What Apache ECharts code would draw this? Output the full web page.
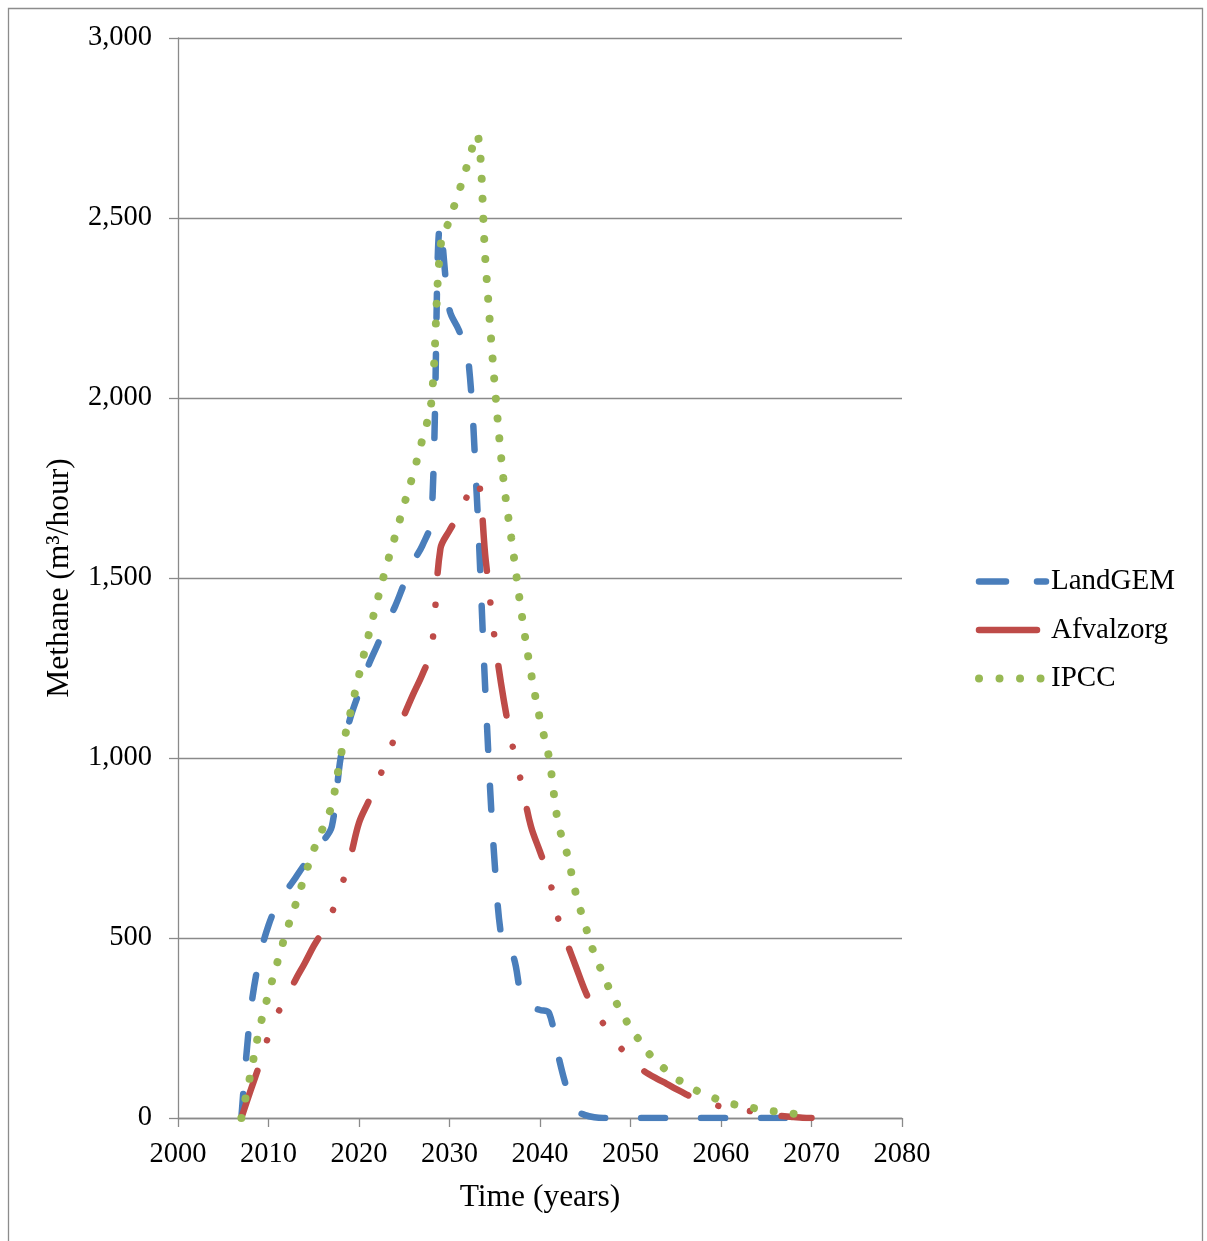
<!DOCTYPE html>
<html>
<head>
<meta charset="utf-8">
<script src="https://cdn.jsdelivr.net/npm/echarts@6/dist/echarts.min.js"></script>
<style>
html,body{margin:0;padding:0;background:#fff;}
#chart{width:1207px;height:1241px;}
</style>
</head>
<body>
<div id="chart"></div>
<script>
// Years (x values) start at 2007
const startYear = 2007;
const seriesNames = ['LandGEM', 'Afvalzorg', 'IPCC'];
const xTicks = [2000, 2010, 2020, 2030, 2040, 2050, 2060, 2070, 2080];
const yTicks = [0, 500, 1000, 1500, 2000, 2500, 3000];

// LandGEM, 2007 .. 2068
const landgem = [0, 290, 445, 535, 595, 632, 668, 705, 737, 768,
  810, 1005, 1108, 1182, 1255, 1312, 1370, 1422, 1485, 1545,
  1590, 1660, 2482, 2245, 2190, 2125, 1735, 1165, 705, 465,
  452, 335, 308, 300, 292, 175, 80, 22, 8, 2,
  0, 0, 0, 0, 0, 0, 0, 0, 0, 0,
  0, 0, 0, 0, 0, 0, 0, 0, 0, 0,
  0, 0];

// Afvalzorg, 2007 .. 2070
const afvalzorg = [0, 75, 148, 228, 290, 335, 385, 430, 478, 520,
  570, 640, 720, 820, 876, 930, 995, 1060, 1120, 1178,
  1232, 1300, 1582, 1632, 1675, 1730, 1775, 1550, 1330, 1160,
  1030, 925, 810, 740, 668, 555, 485, 418, 352, 300,
  262, 225, 192, 165, 140, 122, 108, 95, 81, 68,
  55, 45, 38, 32, 28, 24, 20, 16, 12, 8,
  5, 3, 1, 0];

// IPCC, 2007 .. 2069
const ipcc = [0, 120, 247, 345, 434, 520, 594, 672, 745, 805,
  870, 1008, 1120, 1230, 1335, 1435, 1530, 1617, 1705, 1790,
  1885, 1990, 2420, 2495, 2570, 2650, 2732, 2370, 2035, 1765,
  1580, 1395, 1237, 1107, 1000, 820, 733, 620, 535, 456,
  398, 340, 295, 250, 215, 180, 155, 131, 110, 96,
  80, 68, 58, 48, 41, 35, 30, 26, 22, 18,
  15, 12, 10];

function pairs(arr) { return arr.map((v, i) => [startYear + i, v]); }

const fontFamily = '"Liberation Serif", "Times New Roman", serif';
const gridColor = '#8a8a8a';
const colors = ['#4a7ebb', '#be4b48', '#98b954'];

const chart = echarts.init(document.getElementById('chart'), null, {renderer: 'canvas'});
chart.setOption({
  animation: false,
  backgroundColor: '#ffffff',
  textStyle: {fontFamily: fontFamily, color: '#000'},
  graphic: [{
    type: 'rect',
    shape: {x: 8.5, y: 8.5, width: 1194, height: 1260},
    style: {fill: 'none', stroke: '#8c8c8c', lineWidth: 1.3},
    silent: true
  }],
  grid: {left: 178, right: 305, top: 38, bottom: 123, containLabel: false, outerBoundsMode: 'none'},
  legend: {
    orient: 'vertical',
    left: 968,
    top: 567,
    padding: 0,
    itemWidth: 74,
    itemHeight: 14,
    itemGap: 19.5,
    textStyle: {fontFamily: fontFamily, fontSize: 29, color: '#000'},
    data: [
      {name: seriesNames[0], itemStyle: {opacity: 0},
       lineStyle: {color: colors[0], width: 6.5, type: [27, 31], cap: 'round', dashOffset: -7}},
      {name: seriesNames[1], itemStyle: {opacity: 0},
       lineStyle: {color: colors[1], width: 6.5, type: [58, 40], cap: 'round', dashOffset: -7}},
      {name: seriesNames[2], itemStyle: {opacity: 0},
       lineStyle: {color: colors[2], width: 8, type: [0.01, 20.5], cap: 'round', dashOffset: 13.5}}
    ]
  },
  xAxis: {
    type: 'value',
    min: xTicks[0],
    max: xTicks[xTicks.length - 1],
    interval: 10,
    name: 'Time (years)',
    nameLocation: 'middle',
    nameGap: 64,
    nameTextStyle: {fontFamily: fontFamily, fontSize: 31.5, color: '#000', verticalAlign: 'top'},
    axisLine: {lineStyle: {color: gridColor, width: 1.3}},
    axisTick: {length: 9, lineStyle: {color: gridColor, width: 1.3}},
    axisLabel: {fontFamily: fontFamily, fontSize: 28.5, color: '#000', margin: 22, formatter: v => String(v)},
    splitLine: {show: false}
  },
  yAxis: {
    type: 'value',
    min: yTicks[0],
    max: yTicks[yTicks.length - 1],
    interval: 500,
    name: 'Methane (m³/hour)',
    nameLocation: 'middle',
    nameRotate: 90,
    nameGap: 102,
    nameTextStyle: {fontFamily: fontFamily, fontSize: 31.5, color: '#000'},
    axisLine: {show: true, lineStyle: {color: gridColor, width: 1.3}},
    axisTick: {show: true, length: 9, lineStyle: {color: gridColor, width: 1.3}},
    axisLabel: {fontFamily: fontFamily, fontSize: 28.5, color: '#000', margin: 26,
      formatter: v => v.toLocaleString('en-US')},
    splitLine: {show: true, lineStyle: {color: gridColor, width: 1.3}}
  },
  series: [
    {
      name: seriesNames[0], type: 'line', data: pairs(landgem),
      smooth: 0.35, symbol: 'none', showSymbol: false,
      itemStyle: {color: colors[0]},
      lineStyle: {color: colors[0], width: 6.5, type: [24, 36], cap: 'round', join: 'round'}
    },
    {
      name: seriesNames[1], type: 'line', data: pairs(afvalzorg),
      smooth: 0.35, symbol: 'none', showSymbol: false,
      itemStyle: {color: colors[1]},
      lineStyle: {color: colors[1], width: 6.5, type: [50, 32, 0.01, 32, 0.01, 32], cap: 'round', join: 'round'}
    },
    {
      name: seriesNames[2], type: 'line', data: pairs(ipcc),
      smooth: 0.35, symbol: 'none', showSymbol: false,
      itemStyle: {color: colors[2]},
      lineStyle: {color: colors[2], width: 8, type: [0.01, 20], cap: 'round', join: 'round'}
    }
  ]
});
</script>
</body>
</html>
